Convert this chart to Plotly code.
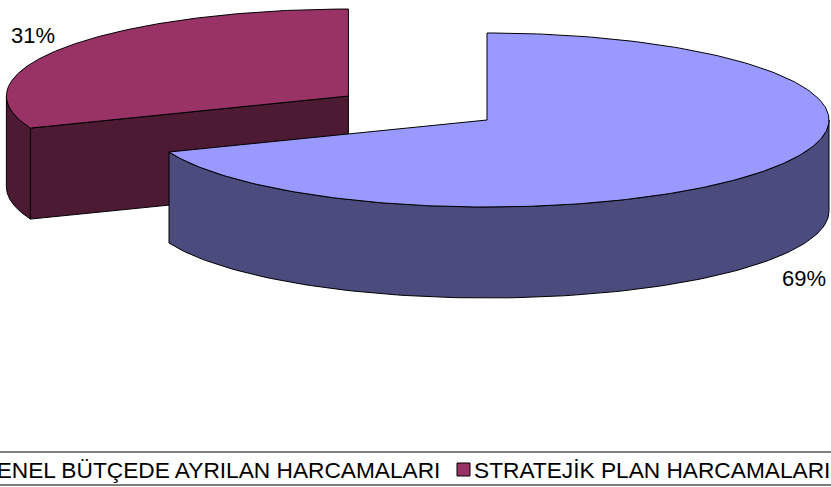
import numpy as np
import plotly.graph_objects as go

# ---- data ----
categories = ["GENEL BÜTÇEDE AYRILAN HARCAMALARI", "STRATEJİK PLAN HARCAMALARI"]
values = [69, 31]

# ---- style ----
top_colors = ["#9999FF", "#993366"]
side_colors = ["#4B4B7E", "#4C1A33"]
explode = [0.0, 0.49]
W, H = 831, 487
CX, CY = 487, 120          # pie centre (pixel space of the axes)
RX, RY = 342, 87           # ellipse radii of the tilted pie
DEPTH = 91                 # thickness of the pie
FONT = "Liberation Sans, Arial, sans-serif"
FS_LABEL = 22
FS_LEG = 22.7

total = float(sum(values))
fracs = [v / total for v in values]
starts = np.cumsum([0.0] + fracs[:-1]) * 2 * np.pi
ends = np.cumsum(fracs) * 2 * np.pi


def rim(cx, cy, th, dy=0.0):
    return cx + RX * np.sin(th), cy - RY * np.cos(th) + dy


fig = go.Figure()

slices = []
for i, (a0, a1) in enumerate(zip(starts, ends)):
    mid = (a0 + a1) / 2
    cx = CX + explode[i] * RX * np.sin(mid)
    cy = CY - explode[i] * RY * np.cos(mid)
    slices.append((cy, i, a0, a1, mid, cx))

line = dict(color="black", width=1)
# draw back-most slices first
for cy, i, a0, a1, mid, cx in sorted(slices):
    # radial walls
    for ang, normal in ((a0, a0 - np.pi / 2), (a1, a1 + np.pi / 2)):
        if np.cos(normal) < -1e-6:
            xt, yt = rim(cx, cy, ang)
            xs = [cx, xt, xt, cx, cx]
            ys = [cy, yt, yt + DEPTH, cy + DEPTH, cy]
            fig.add_trace(go.Scatter(x=xs, y=ys, mode="lines", fill="toself",
                                     fillcolor=side_colors[i], line=line,
                                     hoverinfo="skip", showlegend=False))
    # outer curved wall (front half only)
    for lo, hi in ((np.pi / 2, 3 * np.pi / 2), (5 * np.pi / 2, 7 * np.pi / 2)):
        s, e = max(a0, lo), min(a1, hi)
        if e > s:
            th = np.linspace(s, e, 120)
            xt, yt = rim(cx, cy, th)
            xb, yb = rim(cx, cy, th[::-1], DEPTH)
            xs = np.concatenate([xt, xb, xt[:1]])
            ys = np.concatenate([yt, yb, yt[:1]])
            fig.add_trace(go.Scatter(x=xs, y=ys, mode="lines", fill="toself",
                                     fillcolor=side_colors[i], line=line,
                                     hoverinfo="skip", showlegend=False))
    # top face
    th = np.linspace(a0, a1, 240)
    xt, yt = rim(cx, cy, th)
    xs = np.concatenate([[cx], xt, [cx]])
    ys = np.concatenate([[cy], yt, [cy]])
    fig.add_trace(go.Scatter(x=xs, y=ys, mode="lines", fill="toself",
                             fillcolor=top_colors[i], line=line,
                             name=categories[i], hoverinfo="skip",
                             showlegend=False))
    # percentage label
    front = np.cos(mid) < 0
    rx_, ry_ = rim(cx, cy, mid, DEPTH if front else 0)
    right = np.sin(mid) > 0
    fig.add_annotation(
        x=rx_ + (10 if right else -9), y=ry_ + (4 if front else 3),
        xref="x", yref="y", text=f"{round(fracs[i] * 100)}%", showarrow=False,
        xanchor="left" if right else "right", yanchor="top" if front else "bottom",
        font=dict(family=FONT, size=FS_LABEL, color="black"))

# ---- legend (box wider than the canvas, as in the original) ----
LEG_TOP, LEG_BOT, LEG_MID = 452, 485, 470
fig.add_shape(type="line", xref="paper", yref="y", x0=-0.1, x1=1.1,
              y0=LEG_TOP, y1=LEG_TOP, line=dict(color="#808080", width=2))
fig.add_shape(type="line", xref="paper", yref="y", x0=-0.1, x1=1.1,
              y0=LEG_BOT, y1=LEG_BOT, line=dict(color="black", width=1))
fig.add_annotation(x=442, y=LEG_MID, xref="x", yref="y", text=categories[0],
                   showarrow=False, xanchor="right", yanchor="middle",
                   font=dict(family=FONT, size=FS_LEG, color="black"))
fig.add_shape(type="rect", xref="x", yref="y", x0=457, x1=470, y0=463, y1=476,
              fillcolor=top_colors[1], line=dict(color="black", width=1))
fig.add_annotation(x=472, y=LEG_MID, xref="x", yref="y", text=categories[1],
                   showarrow=False, xanchor="left", yanchor="middle",
                   font=dict(family=FONT, size=FS_LEG, color="black"))

fig.update_layout(
    width=W, height=H, margin=dict(l=0, r=0, t=0, b=0),
    paper_bgcolor="white", plot_bgcolor="white", showlegend=False,
    xaxis=dict(range=[0, W], visible=False, fixedrange=True),
    yaxis=dict(range=[H, 0], visible=False, fixedrange=True),
)
fig.write_html("out.html", config={"displayModeBar": False},
               post_script="document.body.style.margin='0';"
                           "document.body.style.overflow='hidden';")
